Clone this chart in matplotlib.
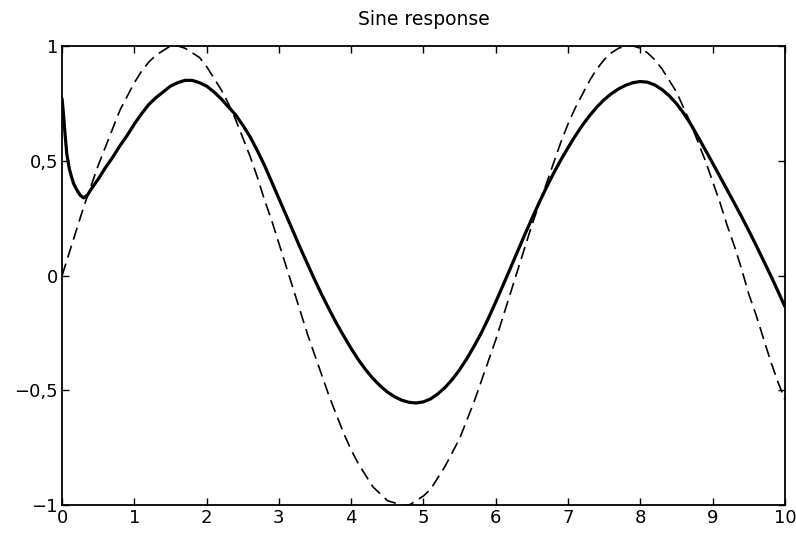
import matplotlib
matplotlib.use("Agg")
import matplotlib.pyplot as plt

# Dashed curve (input sine), every 0.1
x_input = [0.0, 0.1, 0.2, 0.3, 0.4, 0.5, 0.6, 0.7, 0.8, 0.9,
           1.0, 1.1, 1.2, 1.3, 1.4, 1.5, 1.6, 1.7, 1.8, 1.9,
           2.0, 2.1, 2.2, 2.3, 2.4, 2.5, 2.6, 2.7, 2.8, 2.9,
           3.0, 3.1, 3.2, 3.3, 3.4, 3.5, 3.6, 3.7, 3.8, 3.9,
           4.0, 4.1, 4.2, 4.3, 4.4, 4.5, 4.6, 4.7, 4.8, 4.9,
           5.0, 5.1, 5.2, 5.3, 5.4, 5.5, 5.6, 5.7, 5.8, 5.9,
           6.0, 6.1, 6.2, 6.3, 6.4, 6.5, 6.6, 6.7, 6.8, 6.9,
           7.0, 7.1, 7.2, 7.3, 7.4, 7.5, 7.6, 7.7, 7.8, 7.9,
           8.0, 8.1, 8.2, 8.3, 8.4, 8.5, 8.6, 8.7, 8.8, 8.9,
           9.0, 9.1, 9.2, 9.3, 9.4, 9.5, 9.6, 9.7, 9.8, 9.9, 10.0]
y_input = [0.00, 0.10, 0.20, 0.30, 0.39, 0.48, 0.56, 0.64, 0.72, 0.78,
           0.84, 0.89, 0.93, 0.96, 0.98, 1.00, 1.00, 0.99, 0.97, 0.95,
           0.91, 0.86, 0.81, 0.75, 0.68, 0.60, 0.52, 0.43, 0.33, 0.24,
           0.14, 0.04, -0.06, -0.16, -0.26, -0.35, -0.44, -0.53, -0.61, -0.69,
           -0.76, -0.82, -0.87, -0.92, -0.95, -0.98, -0.99, -1.00, -1.00, -0.98,
           -0.96, -0.93, -0.88, -0.83, -0.77, -0.71, -0.63, -0.55, -0.46, -0.37,
           -0.28, -0.18, -0.08, 0.02, 0.12, 0.22, 0.31, 0.40, 0.49, 0.58,
           0.66, 0.73, 0.79, 0.85, 0.90, 0.94, 0.97, 0.99, 1.00, 1.00,
           0.99, 0.97, 0.94, 0.90, 0.85, 0.80, 0.73, 0.66, 0.58, 0.50,
           0.41, 0.32, 0.22, 0.13, 0.03, -0.08, -0.17, -0.27, -0.37, -0.46, -0.54]

# Solid curve (response)
x_resp = [0.0, 0.02, 0.04, 0.065, 0.1, 0.13, 0.16, 0.2, 0.25, 0.3, 0.35, 0.4,
          0.5, 0.6, 0.7, 0.8, 0.9,
          1.0, 1.1, 1.2, 1.3, 1.4, 1.5, 1.6, 1.7, 1.8, 1.9,
          2.0, 2.1, 2.2, 2.3, 2.4, 2.5, 2.6, 2.7, 2.8, 2.9,
          3.0, 3.1, 3.2, 3.3, 3.4, 3.5, 3.6, 3.7, 3.8, 3.9,
          4.0, 4.1, 4.2, 4.3, 4.4, 4.5, 4.6, 4.7, 4.8, 4.9,
          5.0, 5.1, 5.2, 5.3, 5.4, 5.5, 5.6, 5.7, 5.8, 5.9,
          6.0, 6.1, 6.2, 6.3, 6.4, 6.5, 6.6, 6.7, 6.8, 6.9,
          7.0, 7.1, 7.2, 7.3, 7.4, 7.5, 7.6, 7.7, 7.8, 7.9,
          8.0, 8.1, 8.2, 8.3, 8.4, 8.5, 8.6, 8.7, 8.8, 8.9,
          9.0, 9.1, 9.2, 9.3, 9.4, 9.5, 9.6, 9.7, 9.8, 9.9, 10.0]
y_resp = [0.77, 0.70, 0.62, 0.53, 0.465, 0.43, 0.40, 0.375, 0.35, 0.338, 0.35, 0.375,
          0.42, 0.47, 0.515, 0.565, 0.61,
          0.66, 0.705, 0.745, 0.775, 0.80, 0.825, 0.84, 0.85, 0.85, 0.84,
          0.825, 0.80, 0.77, 0.735, 0.70, 0.655, 0.605, 0.545, 0.48, 0.408,
          0.335, 0.263, 0.19, 0.117, 0.047, -0.022, -0.088, -0.15, -0.21, -0.265,
          -0.318, -0.367, -0.41, -0.448, -0.48, -0.507, -0.528, -0.543, -0.552, -0.555,
          -0.55, -0.537, -0.515, -0.487, -0.452, -0.41, -0.362, -0.308, -0.25, -0.185,
          -0.115, -0.043, 0.03, 0.104, 0.177, 0.248, 0.317, 0.383, 0.445, 0.503,
          0.557, 0.608, 0.655, 0.697, 0.734, 0.766, 0.792, 0.813, 0.829, 0.84,
          0.845, 0.842, 0.83, 0.81, 0.783, 0.749, 0.707, 0.658, 0.603, 0.547,
          0.49, 0.432, 0.374, 0.316, 0.257, 0.196, 0.133, 0.068, 0.003, -0.065, -0.135]

x_ticks = [0, 1, 2, 3, 4, 5, 6, 7, 8, 9, 10]
y_ticks = [-1, -0.5, 0, 0.5, 1]
y_tick_labels = ["\u22121", "\u22120,5", "0", "0,5", "1"]
title = "Sine response"

plt.rcParams["font.family"] = ["DejaVu Sans"]
fig = plt.figure(figsize=(7.96, 5.34), dpi=100)
ax = fig.add_axes([0.078, 0.054, 0.908, 0.860])

ax.plot(x_input, y_input, color="black", linewidth=1.2, dashes=(7.5, 3.8))
ax.plot(x_resp, y_resp, color="black", linewidth=2.3,
        solid_joinstyle="round", solid_capstyle="round")

ax.set_xlim(0, 10)
ax.set_ylim(-1, 1)
ax.set_xticks(x_ticks)
ax.set_xticklabels([str(t) for t in x_ticks])
ax.set_yticks(y_ticks)
ax.set_yticklabels(y_tick_labels)
ax.tick_params(direction="in", top=True, right=True, length=5, width=1.0,
               labelsize=13, pad=3)
for s in ax.spines.values():
    s.set_linewidth(1.3)
ax.set_title(title, fontsize=13.5, pad=15)

fig.savefig("out.png", dpi=100)
